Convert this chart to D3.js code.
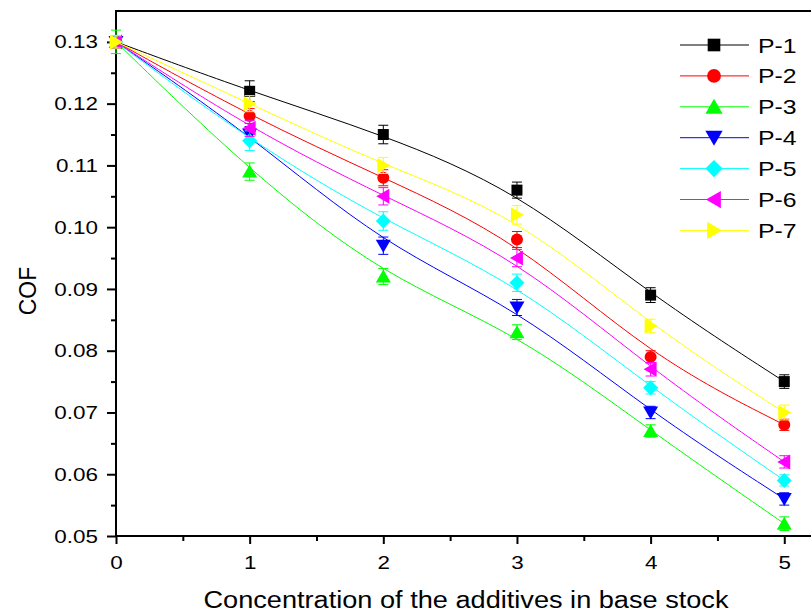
<!DOCTYPE html>
<html>
<head>
<meta charset="utf-8">
<script src="https://cdn.jsdelivr.net/npm/d3@7"></script>
<style>
  html, body { margin: 0; padding: 0; background: #fff; }
  svg { display: block; font-family: "Liberation Sans", Arial, sans-serif; }
</style>
</head>
<body>
<svg id="chart" width="811" height="616"></svg>
<script>
// ---- Data ----
const xValues = [0, 1, 2, 3, 4, 5];
const seriesNames = ["P-1", "P-2", "P-3", "P-4", "P-5", "P-6", "P-7"];
const seriesColors = ["#000000", "#ff0000", "#00ff00", "#0000ff", "#00ffff", "#ff00ff", "#ffff00"];
const seriesMarkers = ["square", "circle", "triangleUp", "triangleDown", "diamond", "triangleLeft", "triangleRight"];
const p1 = [0.130, 0.122, 0.115, 0.106, 0.089, 0.075];
const p2 = [0.130, 0.118, 0.108, 0.098, 0.079, 0.068];
const p3 = [0.130, 0.109, 0.092, 0.083, 0.067, 0.052];
const p4 = [0.130, 0.115, 0.097, 0.087, 0.070, 0.056];
const p5 = [0.130, 0.114, 0.101, 0.091, 0.074, 0.059];
const p6 = [0.130, 0.116, 0.105, 0.095, 0.077, 0.062];
const p7 = [0.130, 0.120, 0.110, 0.102, 0.084, 0.070];
const e1 = [0.0010, 0.0017, 0.0015, 0.0013, 0.0012, 0.0011];
const e2 = [0.0010, 0.0012, 0.0013, 0.0013, 0.0010, 0.0009];
const e3 = [0.0019, 0.0014, 0.0013, 0.0012, 0.0010, 0.0011];
const e4 = [0.0010, 0.0013, 0.0014, 0.0013, 0.0010, 0.0010];
const e5 = [0.0010, 0.0016, 0.0015, 0.0014, 0.0010, 0.0009];
const e6 = [0.0010, 0.0013, 0.0014, 0.0014, 0.0011, 0.0010];
const e7 = [0.0010, 0.0013, 0.0013, 0.0015, 0.0011, 0.0012];
const seriesValues = [p1, p2, p3, p4, p5, p6, p7];
const seriesErrors = [e1, e2, e3, e4, e5, e6, e7];
const xTicks = [0, 1, 2, 3, 4, 5];
const xMinorTicks = [0.5, 1.5, 2.5, 3.5, 4.5];
const yTicks = [0.05, 0.06, 0.07, 0.08, 0.09, 0.10, 0.11, 0.12, 0.13];
const yMinorTicks = [0.055, 0.065, 0.075, 0.085, 0.095, 0.105, 0.115, 0.125];
const xTitle = "Concentration of the additives in base stock";
const yTitle = "COF";

// ---- Layout ----
const svg = d3.select("#chart");
const plotLeft = 116, plotTop = 11, plotRight = 811, plotBottom = 536;
const x = d3.scaleLinear().domain([0, 5.2]).range([plotLeft, plotRight]);
const y = d3.scaleLinear().domain([0.05, 0.135]).range([plotBottom, plotTop]);
const STRETCH = 1.18;

function stretchText(sel) {
  sel.each(function () {
    const w = this.getComputedTextLength();
    d3.select(this).attr("textLength", w * STRETCH).attr("lengthAdjust", "spacingAndGlyphs");
  });
}

// Axes
const gx = svg.append("g").attr("transform", `translate(0,${plotBottom})`)
  .call(d3.axisBottom(x).tickValues(xTicks).tickSize(8).tickPadding(12).tickFormat(d3.format("d")));
const gxm = svg.append("g").attr("transform", `translate(0,${plotBottom})`)
  .call(d3.axisBottom(x).tickValues(xMinorTicks).tickSize(5).tickFormat(""));
const gy = svg.append("g").attr("transform", `translate(${plotLeft},0)`)
  .call(d3.axisLeft(y).tickValues(yTicks).tickSize(9).tickPadding(9).tickFormat(d3.format(".2f")));
const gym = svg.append("g").attr("transform", `translate(${plotLeft},0)`)
  .call(d3.axisLeft(y).tickValues(yMinorTicks).tickSize(5).tickFormat(""));
[gx, gxm, gy, gym].forEach(g => {
  g.select(".domain").remove();
  g.selectAll(".tick line").attr("stroke", "#000").attr("stroke-width", 2);
});
gx.selectAll(".tick text").attr("font-size", 19).attr("fill", "#000")
  .attr("font-family", "Liberation Sans, Arial, sans-serif");
gy.selectAll(".tick text").attr("font-size", 19).attr("fill", "#000")
  .attr("font-family", "Liberation Sans, Arial, sans-serif");
gx.selectAll(".tick text").call(stretchText);
gy.selectAll(".tick text").call(stretchText);

// Frame lines (left, bottom, top)
svg.append("line").attr("x1", plotLeft).attr("x2", plotLeft).attr("y1", plotTop).attr("y2", plotBottom + 1)
  .attr("stroke", "#000").attr("stroke-width", 2);
svg.append("line").attr("x1", plotLeft - 1).attr("x2", plotRight).attr("y1", plotBottom).attr("y2", plotBottom)
  .attr("stroke", "#000").attr("stroke-width", 2);
svg.append("line").attr("x1", plotLeft - 1).attr("x2", plotRight).attr("y1", plotTop).attr("y2", plotTop)
  .attr("stroke", "#000").attr("stroke-width", 2);

// Markers
function markerPath(type, s) {
  switch (type) {
    case "square": return `M${-5.5*s},${-5.5*s}h${11*s}v${11*s}h${-11*s}Z`;
    case "circle": { const r = 6*s; return `M${-r},0a${r},${r} 0 1,0 ${2*r},0a${r},${r} 0 1,0 ${-2*r},0Z`; }
    case "triangleUp": return `M0,${-7*s}L${7.5*s},${6*s}L${-7.5*s},${6*s}Z`;
    case "triangleDown": return `M0,${7*s}L${7.5*s},${-6*s}L${-7.5*s},${-6*s}Z`;
    case "diamond": return `M0,${-7.5*s}L${7.5*s},0L0,${7.5*s}L${-7.5*s},0Z`;
    case "triangleLeft": return `M${-7*s},0L${6*s},${-7.5*s}L${6*s},${7.5*s}Z`;
    case "triangleRight": return `M${7*s},0L${-6*s},${-7.5*s}L${-6*s},${7.5*s}Z`;
  }
}

const line = d3.line().x(d => x(d.x)).y(d => y(d.v)).curve(d3.curveBasis);

seriesNames.forEach((name, i) => {
  const color = seriesColors[i];
  const pts = xValues.map((xv, j) => ({ x: xv, v: seriesValues[i][j], e: seriesErrors[i][j] }));
  const g = svg.append("g");
  g.append("path").datum(pts).attr("d", line).attr("fill", "none")
    .attr("stroke", color).attr("stroke-width", 1);
  const eb = g.selectAll(".eb").data(pts).enter().append("g");
  eb.append("line").attr("x1", d => x(d.x)).attr("x2", d => x(d.x))
    .attr("y1", d => y(d.v + d.e)).attr("y2", d => y(d.v - d.e))
    .attr("stroke", color).attr("stroke-width", 1);
  eb.append("line").attr("x1", d => x(d.x) - 5).attr("x2", d => x(d.x) + 5)
    .attr("y1", d => y(d.v + d.e)).attr("y2", d => y(d.v + d.e))
    .attr("stroke", color).attr("stroke-width", 1);
  eb.append("line").attr("x1", d => x(d.x) - 5).attr("x2", d => x(d.x) + 5)
    .attr("y1", d => y(d.v - d.e)).attr("y2", d => y(d.v - d.e))
    .attr("stroke", color).attr("stroke-width", 1);
  g.selectAll(".mk").data(pts).enter().append("path")
    .attr("d", markerPath(seriesMarkers[i], 1))
    .attr("transform", d => `translate(${x(d.x)},${y(d.v)})`)
    .attr("fill", color);
});

// Legend
const legend = svg.append("g");
seriesNames.forEach((name, i) => {
  const cy = 45 + i * 30.9;
  legend.append("line").attr("x1", 680).attr("x2", 749).attr("y1", cy).attr("y2", cy)
    .attr("stroke", seriesColors[i]).attr("stroke-width", 1);
  legend.append("path").attr("d", markerPath(seriesMarkers[i], 1.15))
    .attr("transform", `translate(714,${cy})`).attr("fill", seriesColors[i]);
  legend.append("text").attr("x", 758).attr("y", cy + 7.5).attr("font-size", 21)
    .attr("fill", "#000").text(name).call(stretchText);
});

// Axis titles
svg.append("text").attr("x", 466).attr("y", 608).attr("text-anchor", "middle")
  .attr("font-size", 23).attr("fill", "#000").text(xTitle).call(stretchText);
svg.append("text").attr("transform", "translate(36,291) rotate(-90)").attr("text-anchor", "middle")
  .attr("font-size", 23).attr("fill", "#000").text(yTitle);
</script>
</body>
</html>
